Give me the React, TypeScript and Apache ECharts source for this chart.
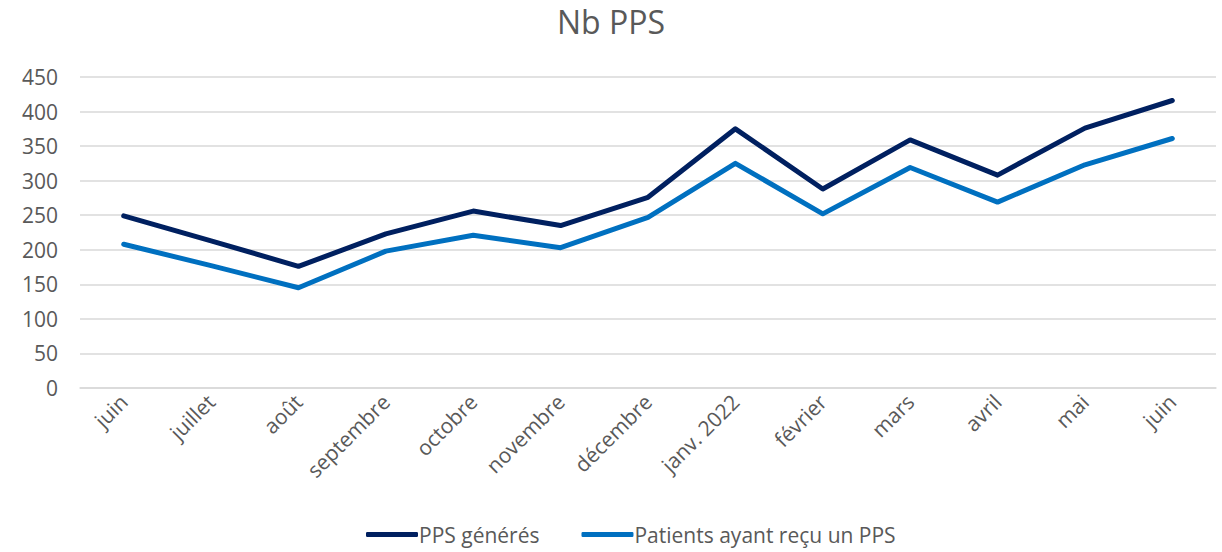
import React, { useEffect, useRef } from "react";
import * as echarts from "echarts";

const categories = ["juin", "juillet", "août", "septembre", "octobre", "novembre", "décembre", "janv. 2022", "février", "mars", "avril", "mai", "juin"];
const ppsGeneres = [249, 213, 176, 223, 256, 235, 276, 375, 288, 359, 308, 376, 416];
const patientsPps = [208, 177, 145, 198, 221, 203, 247, 325, 252, 319, 269, 323, 361];
const yTicks = { min: 0, max: 450, interval: 50 };

const FONT = "'Open Sans', sans-serif";
const GREY = "#595959";

export default function App() {
  const ref = useRef<HTMLDivElement>(null);
  useEffect(() => {
    if (!ref.current) return;
    const chart = echarts.init(ref.current, undefined, { renderer: "svg" });
    chart.setOption({
      animation: false,
      backgroundColor: "#ffffff",
      title: {
        text: "Nb PPS",
        left: "center",
        top: 0,
        textStyle: { fontFamily: FONT, fontSize: 32, fontWeight: "normal", color: GREY },
      },
      legend: {
        bottom: 2,
        left: 361,
        itemGap: 42,
        itemWidth: 52,
        itemHeight: 5,
        icon: "roundRect",
        textStyle: { fontFamily: FONT, fontSize: 21, color: GREY, padding: [0, 0, 0, -4] },
        data: ["PPS générés", "Patients ayant reçu un PPS"],
      },
      grid: { left: 80, right: 6, top: 77, bottom: 164, containLabel: false },
      xAxis: {
        type: "category",
        data: categories,
        boundaryGap: true,
        axisLine: { show: true, lineStyle: { color: "#d9d9d9", width: 1.5 } },
        axisTick: { show: false },
        axisLabel: {
          rotate: 45,
          margin: 10,
          interval: 0,
          fontFamily: FONT,
          fontSize: 21,
          color: GREY,
        },
      },
      yAxis: {
        type: "value",
        min: yTicks.min,
        max: yTicks.max,
        interval: yTicks.interval,
        axisLine: { show: false },
        axisTick: { show: false },
        splitLine: { lineStyle: { color: "#d9d9d9", width: 1.5 } },
        axisLabel: { margin: 22, fontFamily: FONT, fontSize: 21, color: GREY },
      },
      series: [
        {
          name: "PPS générés",
          type: "line",
          data: ppsGeneres,
          showSymbol: false,
          symbol: "none",
          lineStyle: { color: "#002060", width: 5, cap: "round", join: "round" },
          itemStyle: { color: "#002060" },
        },
        {
          name: "Patients ayant reçu un PPS",
          type: "line",
          data: patientsPps,
          showSymbol: false,
          symbol: "none",
          lineStyle: { color: "#0070C0", width: 5, cap: "round", join: "round" },
          itemStyle: { color: "#0070C0" },
        },
      ],
    });
    return () => chart.dispose();
  }, []);
  return <div ref={ref} style={{ width: 1222, height: 552, position: "absolute", left: 0, top: 0 }} />;
}
